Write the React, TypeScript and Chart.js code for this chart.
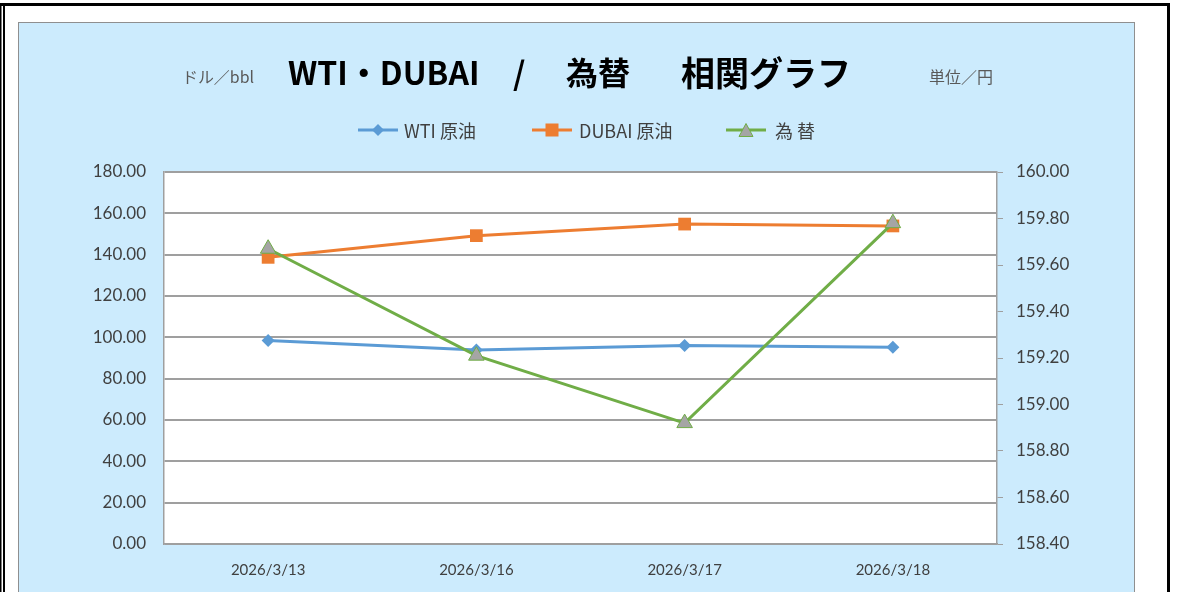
import React, { useEffect, useRef } from "react";
import { Chart, registerables } from "chart.js";

Chart.register(...registerables);

const categories = ["2026/3/13", "2026/3/16", "2026/3/17", "2026/3/18"];
const wtiValues = [98.5, 93.9, 96.0, 95.2];
const dubaiValues = [138.7, 149.2, 154.8, 153.9];
const fxValues = [159.67, 159.21, 158.92, 159.78];
const seriesLabels = ["WTI 原油", "DUBAI 原油", "為 替"];
const titleParts = ["WTI・DUBAI", "/", "為替", "相関グラフ"];
const leftUnit = "ドル／bbl";
const rightUnit = "単位／円";

const BLUE = "#5B9BD5";
const ORANGE = "#ED7D31";
const GREEN = "#70AD47";
const GRAY_MARK = "#A5A5A5";
const GRID = "#9F9F9F";
const TEXT = "#404040";
const JP = "'Noto Sans CJK JP', 'Noto Sans', sans-serif";

function drawMarker(ctx: CanvasRenderingContext2D, kind: string, x: number, y: number) {
  ctx.save();
  ctx.beginPath();
  if (kind === "diamond") {
    const r = 6;
    ctx.moveTo(x - r, y);
    ctx.lineTo(x, y - r);
    ctx.lineTo(x + r, y);
    ctx.lineTo(x, y + r);
    ctx.closePath();
    ctx.fillStyle = BLUE;
    ctx.fill();
  } else if (kind === "square") {
    const s = 6.5;
    ctx.rect(x - s, y - s, 2 * s, 2 * s);
    ctx.fillStyle = ORANGE;
    ctx.fill();
  } else {
    const h = 13;
    const w = 14;
    ctx.moveTo(x, y - h / 2);
    ctx.lineTo(x + w / 2, y + h / 2);
    ctx.lineTo(x - w / 2, y + h / 2);
    ctx.closePath();
    ctx.fillStyle = GRAY_MARK;
    ctx.fill();
    ctx.strokeStyle = GREEN;
    ctx.lineWidth = 1;
    ctx.stroke();
  }
  ctx.restore();
}

const framePlugin = {
  id: "frame",
  beforeDraw(chart: any) {
    const ctx = chart.ctx as CanvasRenderingContext2D;
    const W = chart.width;
    const H = chart.height;
    ctx.save();
    ctx.fillStyle = "#FFFFFF";
    ctx.fillRect(0, 0, W, H);
    ctx.fillStyle = "#000000";
    ctx.fillRect(0, 3, 1170, 3);
    ctx.fillRect(0, 3, 1.5, H);
    ctx.fillRect(3, 3, 2, H);
    ctx.fillRect(1167, 3, 3, H);
    ctx.fillStyle = "#CCEBFD";
    ctx.fillRect(18, 22, 1117, H);
    ctx.strokeStyle = "#8F8F8F";
    ctx.lineWidth = 1;
    ctx.strokeRect(18.5, 22.5, 1116, H);
    const a = chart.chartArea;
    ctx.fillStyle = "#FFFFFF";
    ctx.fillRect(a.left, a.top, a.right - a.left, a.bottom - a.top);
    ctx.restore();
  },
  afterDraw(chart: any) {
    const ctx = chart.ctx as CanvasRenderingContext2D;
    ctx.save();
    ctx.textBaseline = "middle";
    ctx.fillStyle = "#000000";
    ctx.font = `bold 32px ${JP}`;
    ctx.textAlign = "left";
    ctx.fillText(titleParts[0], 288, 73, 193);
    ctx.fillText(titleParts[1], 513, 73);
    ctx.fillText(titleParts[2], 566, 73, 64);
    ctx.font = `bold 34px ${JP}`;
    ctx.fillText(titleParts[3], 681, 73, 175);
    ctx.fillStyle = "#595959";
    ctx.font = `16px ${JP}`;
    ctx.fillText(leftUnit, 182, 77, 72);
    ctx.fillText(rightUnit, 929, 77, 72);
    const items = [
      { x: 358, tx: 404, color: BLUE, kind: "diamond", label: seriesLabels[0] },
      { x: 532, tx: 579, color: ORANGE, kind: "square", label: seriesLabels[1] },
      { x: 726, tx: 775, color: GREEN, kind: "triangle", label: seriesLabels[2] },
    ];
    const ly = 130;
    for (const it of items) {
      ctx.strokeStyle = it.color;
      ctx.lineWidth = 3;
      ctx.beginPath();
      ctx.moveTo(it.x, ly);
      ctx.lineTo(it.x + 40, ly);
      ctx.stroke();
      drawMarker(ctx, it.kind, it.x + 20, ly);
      ctx.fillStyle = TEXT;
      ctx.font = `18px ${JP}`;
      ctx.textAlign = "left";
      ctx.fillText(it.label, it.tx, ly + 1);
    }
    ctx.restore();
  },
};

export default function App() {
  const ref = useRef<HTMLCanvasElement | null>(null);
  useEffect(() => {
    document.body.style.margin = "0";
    const canvas = ref.current;
    if (!canvas) return;
    const chart = new Chart(canvas, {
      type: "line",
      data: {
        labels: categories,
        datasets: [
          {
            label: seriesLabels[0],
            data: wtiValues,
            borderColor: BLUE,
            backgroundColor: BLUE,
            borderWidth: 3,
            pointStyle: "rectRot",
            pointRadius: 6.5,
            pointBorderWidth: 0,
            yAxisID: "y",
            order: 2,
          },
          {
            label: seriesLabels[1],
            data: dubaiValues,
            borderColor: ORANGE,
            backgroundColor: ORANGE,
            borderWidth: 3,
            pointStyle: "rect",
            pointRadius: 9,
            pointBorderWidth: 0,
            yAxisID: "y",
            order: 1,
          },
          {
            label: seriesLabels[2],
            data: fxValues,
            borderColor: GREEN,
            backgroundColor: GRAY_MARK,
            pointBorderColor: GREEN,
            borderWidth: 3,
            pointStyle: "triangle",
            pointRadius: 9,
            pointBorderWidth: 1,
            yAxisID: "y1",
            order: 0,
          },
        ],
      },
      options: {
        animation: false,
        responsive: false,
        maintainAspectRatio: false,
        layout: { padding: { top: 172, left: 0, right: 0, bottom: 0 } },
        plugins: {
          legend: { display: false },
          title: { display: false },
          tooltip: { enabled: false },
        },
        elements: { line: { tension: 0 } },
        scales: {
          x: {
            type: "category",
            offset: true,
            grid: { display: false, drawTicks: false },
            border: { display: true, color: GRID, width: 1.5 },
            ticks: {
              color: TEXT,
              font: { family: "Lato", size: 15 },
              padding: 17,
              maxRotation: 0,
            },
            afterFit: (s: any) => {
              s.height = 48;
            },
          },
          y: {
            position: "left",
            min: 0,
            max: 180,
            ticks: {
              stepSize: 20,
              color: TEXT,
              font: { family: "Lato", size: 17 },
              padding: 18,
              callback: (v: any) => Number(v).toFixed(2),
            },
            grid: { color: GRID, lineWidth: 2, drawTicks: false },
            border: { display: true, color: GRID, width: 1.5 },
            afterFit: (s: any) => {
              s.width = 164;
            },
          },
          y1: {
            position: "right",
            min: 158.4,
            max: 160,
            ticks: {
              stepSize: 0.2,
              color: TEXT,
              font: { family: "Lato", size: 17 },
              padding: 13,
              callback: (v: any) => Number(v).toFixed(2),
            },
            grid: {
              drawOnChartArea: false,
              drawTicks: true,
              tickLength: 6,
              color: GRID,
              lineWidth: 1,
            },
            border: { display: true, color: GRID, width: 1.5 },
            afterFit: (s: any) => {
              s.width = 183;
            },
          },
        },
      },
      plugins: [framePlugin],
    } as any);
    return () => chart.destroy();
  }, []);
  return (
    <div style={{ width: 1180, height: 592, position: "relative" }}>
      <canvas ref={ref} width={1180} height={592} style={{ display: "block" }} />
    </div>
  );
}
